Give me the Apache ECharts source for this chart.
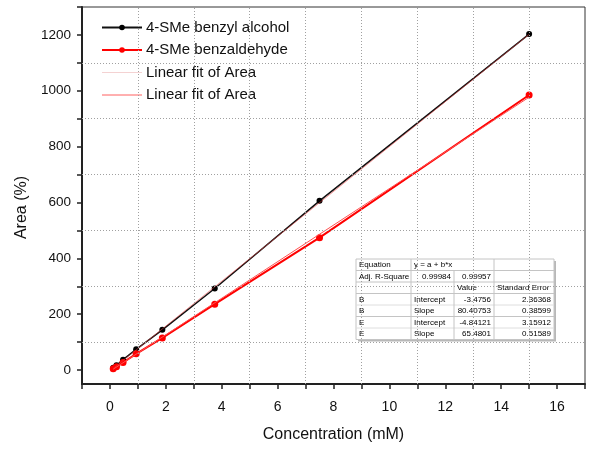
<!DOCTYPE html>
<html>
<head>
<meta charset="utf-8">
<script src="https://cdn.jsdelivr.net/npm/echarts@6/dist/echarts.min.js"></script>
<style>
html,body{margin:0;padding:0;background:#fff;}
#c{width:589px;height:450px;}
</style>
</head>
<body>
<div id="c"></div>
<script>
// ---- data ----
var concentration = [0.117, 0.234, 0.469, 0.938, 1.875, 3.75, 7.5, 15];
var alcoholArea = [8, 17, 37, 74, 144, 292, 606, 1203];
var aldehydeArea = [5, 12, 27, 58, 115, 236, 474, 985];
var fitX = [0.117, 15];
var fitAlcohol = [6, 1202];
var fitAldehyde = [3, 977];
var xTickValues = [-1,0,1,2,3,4,5,6,7,8,9,10,11,12,13,14,15,16,17];
var xLabelValues = [0,2,4,6,8,10,12,14,16];
var yTickValues = [0,100,200,300,400,500,600,700,800,900,1000,1100,1200,1300];
var yLabelValues = [0,200,400,600,800,1000,1200];
var xGridValues = [1,3,5,7,9,11,13,15];
var yGridValues = [100,300,500,700,900,1100];
var seriesNames = ['4-SMe benzyl alcohol', '4-SMe benzaldehyde', 'Linear fit of Area', 'Linear fit of Area'];
var tableRows = [
  ['Equation', 'y = a + b*x', '', ''],
  ['Adj. R-Square', '0.99984', '0.99957', ''],
  ['', '', 'Value', 'Standard Error'],
  ['B', 'Intercept', '-3.4756', '2.36368'],
  ['B', 'Slope', '80.40753', '0.38599'],
  ['E', 'Intercept', '-4.84121', '3.15912'],
  ['E', 'Slope', '65.4801', '0.51589']
];

function pairs(xs, ys){ return xs.map(function(x,i){ return [x, ys[i]]; }); }

// ---- table graphic ----
var tX = 356, tY = 259, rowH = 11.5;
var colX = [356, 411, 454, 494, 554];
var tW = colX[4] - colX[0], tH = rowH * tableRows.length;
var tableChildren = [];
tableChildren.push({type:'rect', shape:{x:tX+2, y:tY+2, width:tW, height:tH}, style:{fill:'#b8b8b8'}});
tableChildren.push({type:'rect', shape:{x:tX, y:tY, width:tW, height:tH}, style:{fill:'#fff', stroke:'#c4c4c4', lineWidth:1}});
for (var r = 1; r < tableRows.length; r++) {
  var strong = (r === 3 || r === 5 || r === 1 || r === 2);
  tableChildren.push({type:'line', shape:{x1:tX, y1:tY + r*rowH, x2:tX+tW, y2:tY + r*rowH},
    style:{stroke: strong ? '#c4c4c4' : '#dedede', lineWidth:1}});
}
for (var c = 1; c < 4; c++) {
  for (var r2 = 0; r2 < tableRows.length; r2++) {
    if (r2 === 0 && c === 2) continue;
    tableChildren.push({type:'line', shape:{x1:colX[c], y1:tY + r2*rowH, x2:colX[c], y2:tY + (r2+1)*rowH},
      style:{stroke:'#c4c4c4', lineWidth:1}});
  }
}
var rightAlign = function(r, c){
  if (r === 1 && (c === 1 || c === 2)) return true;
  if (r >= 3 && (c === 2 || c === 3)) return true;
  return false;
};
tableRows.forEach(function(row, r){
  row.forEach(function(txt, c){
    if (!txt) return;
    var ra = rightAlign(r, c);
    tableChildren.push({type:'text', style:{
      text: txt, x: ra ? colX[c+1] - 3 : colX[c] + 3, y: tY + r*rowH + rowH/2 + 0.5,
      textAlign: ra ? 'right' : 'left', textVerticalAlign:'middle',
      font: '8px "Liberation Sans", Arial, sans-serif', fill:'#000'
    }});
  });
});

var gridMarks = xGridValues.map(function(v){ return {xAxis:v}; })
  .concat(yGridValues.map(function(v){ return {yAxis:v}; }));

var fontFam = '"Liberation Sans", Arial, sans-serif';
var chart = echarts.init(document.getElementById('c'));
chart.setOption({
  backgroundColor:'#fff',
  animation:false,
  grid:{left:82, right:4, top:7, bottom:66, show:true, borderColor:'#333', borderWidth:1},
  legend:{
    orient:'vertical', left:96, top:15, itemWidth:40, itemHeight:7, itemGap:7.5,
    data: [
      {name:'s0'},
      {name:'s1'},
      {name:'s2', itemStyle:{color:'rgba(0,0,0,0)', borderWidth:0}, lineStyle:{color:'#f4d2d2', width:1}},
      {name:'s3', itemStyle:{color:'rgba(0,0,0,0)', borderWidth:0}, lineStyle:{color:'#ff6060', width:1}}
    ],
    formatter: function(n){ return seriesNames[+n.slice(1)]; },
    textStyle:{fontFamily:fontFam, fontSize:15, color:'#111', padding:[0,0,0,-1]},
    selectedMode:false
  },
  xAxis:{
    type:'value', min:-1, max:17,
    name:'Concentration (mM)', nameLocation:'middle', nameGap:43,
    nameTextStyle:{fontFamily:fontFam, fontSize:16, color:'#111'},
    axisLine:{show:true, onZero:false, lineStyle:{color:'#222', width:2}},
    axisTick:{show:true, inside:false, length:5, customValues:xTickValues, lineStyle:{color:'#222', width:1.5}},
    axisLabel:{customValues:xLabelValues, margin:16, fontFamily:fontFam, fontSize:14, color:'#111'},
    splitLine:{show:false}
  },
  yAxis:{
    type:'value', min:-50, max:1300,
    name:'Area (%)', nameLocation:'middle', nameGap:50, nameRotate:90,
    nameTextStyle:{fontFamily:fontFam, fontSize:16, color:'#111', padding:[0,24,0,0]},
    axisLine:{show:true, onZero:false, lineStyle:{color:'#222', width:2}},
    axisTick:{show:true, inside:false, length:5, customValues:yTickValues, lineStyle:{color:'#222', width:1.5}},
    axisLabel:{customValues:yLabelValues, margin:11, fontFamily:fontFam, fontSize:13.5, color:'#111',
      formatter:function(v){ return String(v); }},
    splitLine:{show:false}
  },
  series:[
    {type:'line', name:'grid', data:[], silent:true, z:1,
      markLine:{silent:true, symbol:'none', label:{show:false}, animation:false,
        lineStyle:{color:'#a0a0a0', width:1, type:[1,2]}, data:gridMarks}},
    {type:'line', name:'s0', data:pairs(concentration, alcoholArea), z:3,
      symbol:'circle', symbolSize:6, itemStyle:{color:'#000'}, lineStyle:{color:'#111', width:1.5}},
    {type:'line', name:'s1', data:pairs(concentration, aldehydeArea), z:3,
      symbol:'circle', symbolSize:7, itemStyle:{color:'#ff0000'}, lineStyle:{color:'#ff0000', width:2}},
    {type:'line', name:'s2', data:pairs(fitX, fitAlcohol), z:4, symbol:'none',
      itemStyle:{color:'#f2c4c4'}, lineStyle:{color:'rgba(230,60,60,0.55)', width:1}},
    {type:'line', name:'s3', data:pairs(fitX, fitAldehyde), z:4, symbol:'none',
      itemStyle:{color:'#ff4040'}, lineStyle:{color:'#ff5050', width:1}}
  ],
  graphic:[{type:'group', z:100, children:tableChildren}]
});
</script>
</body>
</html>
